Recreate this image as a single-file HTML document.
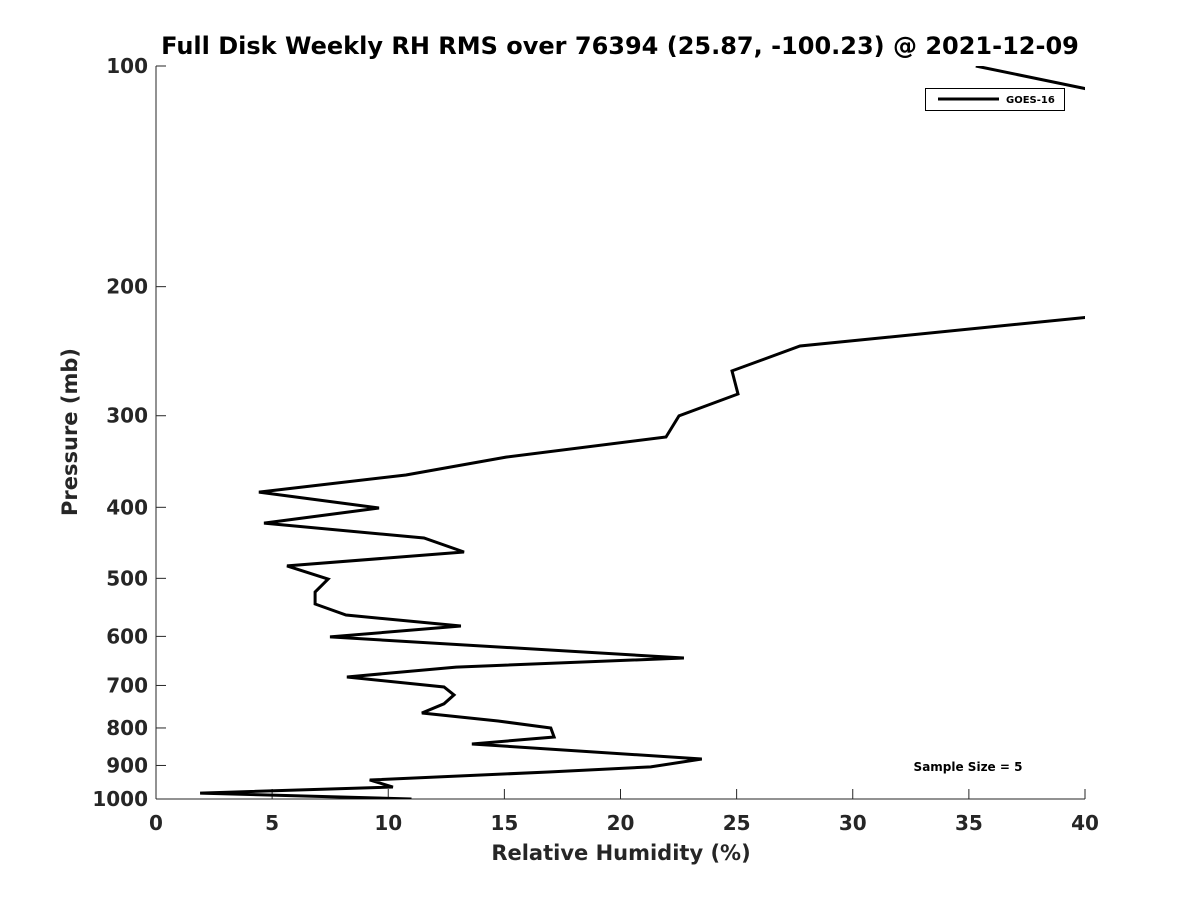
<!DOCTYPE html>
<html><head><meta charset="utf-8"><style>
body{margin:0;background:#fff;}
svg text{font-family:"DejaVu Sans","Liberation Sans",sans-serif;font-weight:bold;fill:#262626;}
</style></head><body>
<svg width="1200" height="900" xmlns="http://www.w3.org/2000/svg">
<defs><clipPath id="plotclip"><rect x="156" y="66" width="929" height="733"/></clipPath></defs>
<text x="620" y="54" font-size="24" text-anchor="middle" style="fill:#000">Full Disk Weekly RH RMS over 76394 (25.87, -100.23) @ 2021-12-09</text>
<g id="axes"></g>
<g id="series" clip-path="url(#plotclip)"></g>
<text x="621" y="860" font-size="21" text-anchor="middle">Relative Humidity (%)</text>
<text x="77" y="432" font-size="21" text-anchor="middle" transform="rotate(-90 77 432)">Pressure (mb)</text>
<g>
<rect x="925.5" y="88.5" width="139" height="22" fill="#fff" stroke="#000" stroke-width="1"/>
<line x1="938" y1="99" x2="999" y2="99" stroke="#000" stroke-width="3"/>
<text x="1006" y="103" font-size="10" style="fill:#000">GOES-16</text>
</g>
<text x="968" y="771" font-size="12" text-anchor="middle" style="fill:#000">Sample Size = 5</text>
</svg>
<script>
const xTicks=[0,5,10,15,20,25,30,35,40];
const yTicks=[100,200,300,400,500,600,700,800,900,1000];
const pressures=[100,120,200,220,241,260.6,280.2,300.2,320.7,341.6,361.4,381.3,400.9,420.3,440.5,460.3,480.9,501.2,521.9,542,561,580.8,601,642.2,660.8,681.7,703.5,721.1,741.5,763.2,782.6,800,823.1,841.4,881.8,904.2,918.6,942,962.9,981.7,1000];
const rhValues=[35.3,47.4,60,40.2,27.73,24.8,25.06,22.52,21.96,15.07,10.76,4.43,9.6,4.65,11.54,13.26,5.64,7.41,6.85,6.85,8.18,13.13,7.49,22.73,12.92,8.22,12.4,12.83,12.4,11.45,14.73,17.0,17.14,13.6,23.5,21.3,16.9,9.2,10.2,1.9,11.0];
const X0=156,X1=1085,Y0=66,Y1=799;
const xs=v=>X0+(v-0)/40*(X1-X0);
const ys=p=>Y0+(Math.log10(p)-2)*(Y1-Y0);
const NS="http://www.w3.org/2000/svg";
const axes=document.getElementById('axes');
function mk(t,a){const e=document.createElementNS(NS,t);for(const k in a)e.setAttribute(k,a[k]);return e;}
let l=mk('line',{x1:X0,y1:Y0,x2:X0,y2:Y1,stroke:'#262626','stroke-width':1});


axes.appendChild(l);
l=mk('line',{x1:X0,y1:Y1,x2:X1,y2:Y1,stroke:'#262626','stroke-width':1});


axes.appendChild(l);
xTicks.forEach(v=>{const x=xs(v);
 const t=mk('line',{x1:x,y1:Y1,x2:x,y2:Y1-10,stroke:'#262626'});
 
 
 axes.appendChild(t);
 const tx=mk('text',{x:x,y:830,'font-size':20,'text-anchor':'middle'});tx.textContent=v;
 
 
 axes.appendChild(tx);});
yTicks.forEach(p=>{const y=ys(p);
 const t=mk('line',{x1:X0,y1:y,x2:X0+10,y2:y,stroke:'#262626'});
 
 
 axes.appendChild(t);
 const tx=mk('text',{x:148,y:y+7,'font-size':20,'text-anchor':'end'});tx.textContent=p;
 
 
 axes.appendChild(tx);});
const pts=pressures.map((p,i)=>xs(rhValues[i]).toFixed(1)+','+ys(p).toFixed(1)).join(' ');
const pl=mk('polyline',{points:pts,fill:'none',stroke:'#000','stroke-width':3,'stroke-linejoin':'miter'});


document.getElementById('series').appendChild(pl);
</script>
</body></html>
